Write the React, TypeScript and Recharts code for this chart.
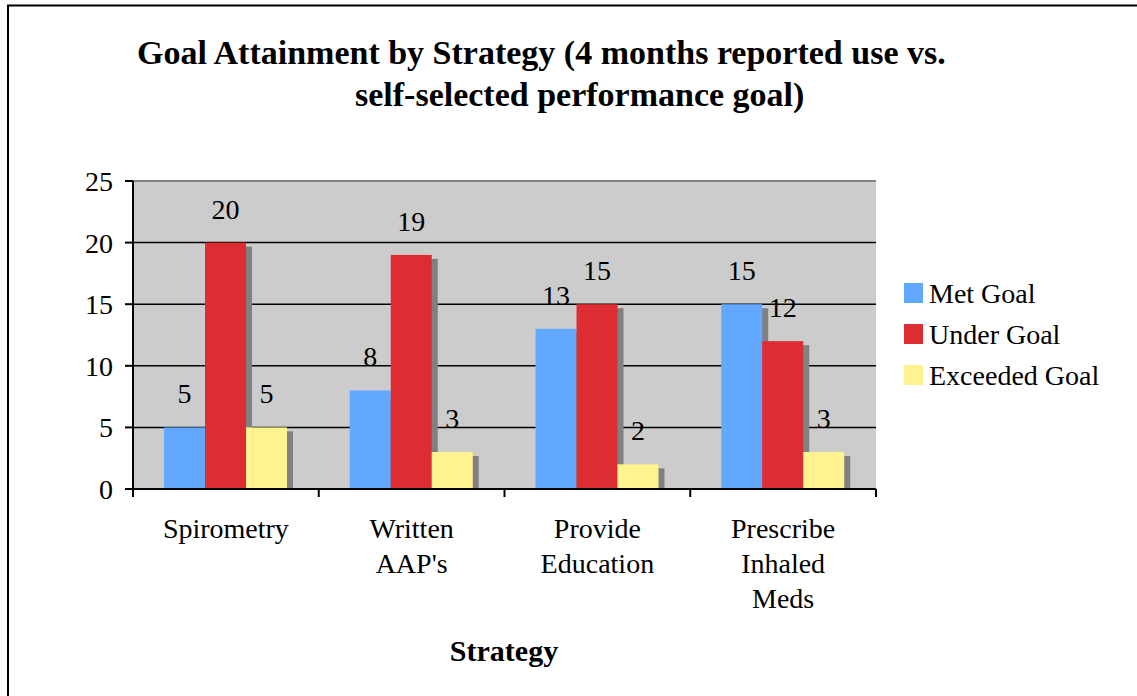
import React from 'react'
import {
  BarChart,
  Bar,
  XAxis,
  YAxis,
  CartesianGrid,
  ReferenceLine,
  LabelList,
} from 'recharts'

const categories = ['Spirometry', "Written AAP's", 'Provide Education', 'Prescribe Inhaled Meds']
const metGoal = [5, 8, 13, 15]
const underGoal = [20, 19, 15, 12]
const exceededGoal = [5, 3, 2, 3]
const yTicks = [0, 5, 10, 15, 20, 25]

const SERIES = [
  { key: 'met', name: 'Met Goal', color: '#62a8ff', values: metGoal },
  { key: 'under', name: 'Under Goal', color: '#de2c33', values: underGoal },
  { key: 'exceeded', name: 'Exceeded Goal', color: '#fff38f', values: exceededGoal },
]

const FONT = '"Liberation Serif", "DejaVu Serif", serif'

// plot box edges (from the chart margins below), used for the between-category tick marks
const PLOT_LEFT = 133
const PLOT_RIGHT = 876
const BAND = (PLOT_RIGHT - PLOT_LEFT) / categories.length

const data = categories.map((name, i) => {
  const row: Record<string, string | number> = { name }
  SERIES.forEach((s) => {
    row[s.key] = s.values[i]
  })
  return row
})

// bar with a flat grey drop shadow to the right, like the old office charts
const ShadowBar = (props: any) => {
  const { x, y, width, height, fill } = props
  if (!height) return null
  return (
    <g>
      <rect x={x + 6} y={y + 4} width={width} height={Math.max(height - 4, 0)} fill="#808080" />
      <rect x={x} y={y} width={width} height={height} fill={fill} />
    </g>
  )
}

const CategoryTick = (props: any) => {
  const { x, y, payload, index } = props
  const lines = String(payload.value).split(' ')
  const half = BAND / 2
  return (
    <g>
      <line x1={x - half} y1={y} x2={x - half} y2={y + 8} stroke="#000" strokeWidth={2} />
      {index === categories.length - 1 && (
        <line x1={x + half} y1={y} x2={x + half} y2={y + 8} stroke="#000" strokeWidth={2} />
      )}
      <text x={x} y={y} textAnchor="middle" fill="#000" fontSize={28} style={{ fontFamily: FONT }}>
        {lines.map((line, i) => (
          <tspan key={i} x={x} dy={i === 0 ? 49 : 35}>
            {line}
          </tspan>
        ))}
      </text>
    </g>
  )
}

export default function App() {
  return (
    <div
      style={{
        position: 'fixed',
        left: 0,
        top: 0,
        width: 1137,
        height: 696,
        overflow: 'hidden',
        background: '#fff',
        fontFamily: FONT,
      }}
    >
      <BarChart
        width={1137}
        height={696}
        data={data}
        margin={{ top: 181, right: 261, left: 53, bottom: 49 }}
        barCategoryGap={31}
        barGap={0}
        style={{ fontFamily: FONT }}
      >
        <CartesianGrid
          vertical={false}
          stroke="#000"
          strokeWidth={1.5}
          fill="#cccccc"
          fillOpacity={1}
        />
        <XAxis
          dataKey="name"
          interval={0}
          height={158}
          axisLine={{ stroke: '#000', strokeWidth: 2 }}
          tickLine={false}
          tickSize={0}
          tickMargin={0}
          tick={<CategoryTick />}
        />
        <YAxis
          width={80}
          domain={[0, 25]}
          ticks={yTicks}
          tickSize={8}
          tickMargin={12}
          axisLine={{ stroke: '#000', strokeWidth: 2 }}
          tickLine={{ stroke: '#000', strokeWidth: 2 }}
          tick={{ fill: '#000', fontSize: 28, style: { fontFamily: FONT } }}
        />
        <YAxis
          yAxisId="right"
          orientation="right"
          width={0}
          domain={[0, 25]}
          tick={false}
          tickLine={false}
          axisLine={{ stroke: '#808080', strokeWidth: 3 }}
        />
        <ReferenceLine y={25} stroke="#808080" strokeWidth={2} />
        {SERIES.map((s) => (
          <Bar
            key={s.key}
            dataKey={s.key}
            name={s.name}
            fill={s.color}
            shape={<ShadowBar />}
            isAnimationActive={false}
          >
            <LabelList
              dataKey={s.key}
              position="top"
              offset={24}
              fill="#000"
              fontSize={28}
              style={{ fontFamily: FONT }}
            />
          </Bar>
        ))}
      </BarChart>

      <svg
        width={1137}
        height={696}
        style={{ position: 'absolute', left: 0, top: 0, pointerEvents: 'none', fontFamily: FONT }}
      >
        <line x1={8} y1={5} x2={8} y2={696} stroke="#000" strokeWidth={2} />
        <line x1={7} y1={5.5} x2={1137} y2={5.5} stroke="#000" strokeWidth={2} />

        <text x={137} y={64} fontSize={34} fontWeight="bold" fill="#000">
          Goal Attainment by Strategy (4 months reported use vs.
        </text>
        <text x={355} y={106} fontSize={34} fontWeight="bold" fill="#000">
          self-selected performance goal)
        </text>

        <text x={504} y={661} fontSize={30} fontWeight="bold" fill="#000" textAnchor="middle">
          Strategy
        </text>

        {SERIES.map((s, i) => (
          <g key={s.key}>
            <rect x={904} y={283 + i * 41} width={19} height={20} fill={s.color} />
            <text x={929} y={303 + i * 41} fontSize={28} fill="#000">
              {s.name}
            </text>
          </g>
        ))}
      </svg>
    </div>
  )
}
